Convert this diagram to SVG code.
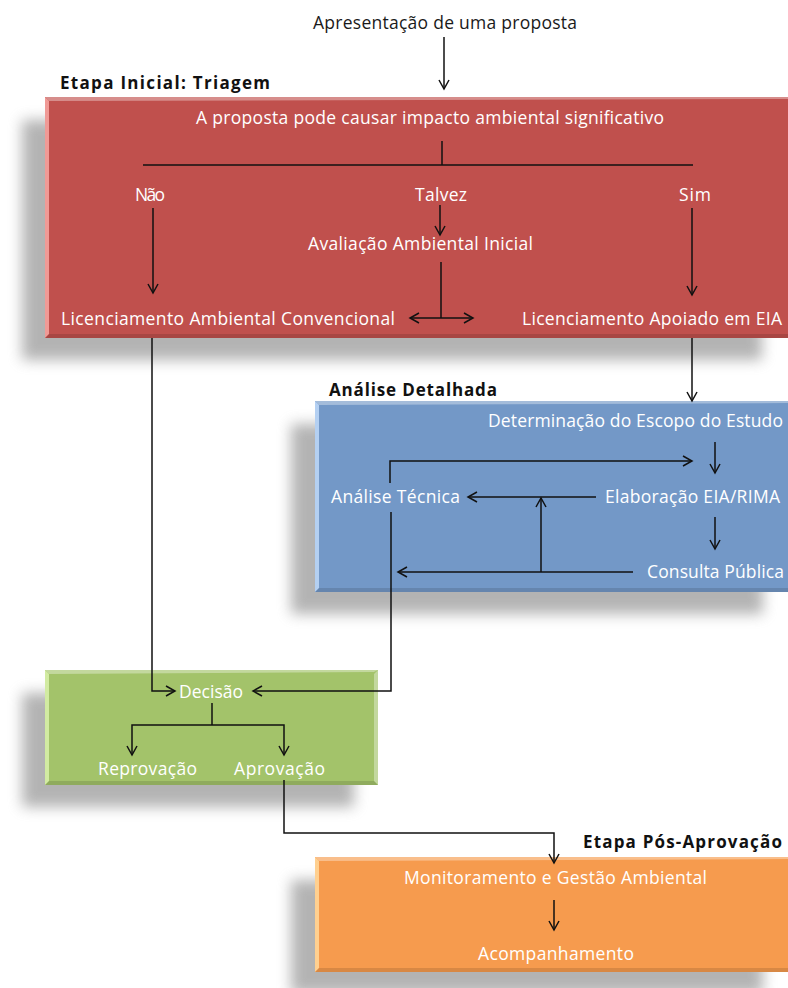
<svg xmlns="http://www.w3.org/2000/svg" width="788" height="988" viewBox="0 0 788 988">
  <style>
    .lbl { font-family: "Open Sans", Lato, "Liberation Sans", sans-serif; font-size: 17.5px; fill: #ffffff; }
    .dark { fill: #1a1a1a; }
    .head { font-family: "Open Sans", Lato, "Liberation Sans", sans-serif; font-size: 17px; font-weight: bold; fill: #111111; }
    .conn { fill: none; stroke: #111111; stroke-width: 1.5; }
    .shadow { fill: #8c8c8c; opacity: 0.65; filter: url(#soft); }
    .hi { fill: #ffffff; opacity: 0.35; }
    .lo { fill: #000000; opacity: 0.12; }
  </style>
  <defs>
    <filter id="soft" x="-20%" y="-30%" width="140%" height="160%">
      <feGaussianBlur stdDeviation="7"/>
    </filter>
    <marker id="arr" markerUnits="userSpaceOnUse" markerWidth="14" markerHeight="14" viewBox="-11 -7 13 14" refX="0" refY="0" orient="auto">
      <path d="M-9,-5 L0,0 L-9,5" fill="none" stroke="#111111" stroke-width="1.5"/>
    </marker>
  </defs>

  <rect width="788" height="988" fill="#ffffff"/>

  <!-- drop shadows under the stage panels -->
  <g id="shadows">
    <rect class="shadow" x="22" y="120" width="740" height="240"/>
    <rect class="shadow" x="291" y="424" width="472" height="190"/>
    <rect class="shadow" x="22" y="693" width="332" height="114"/>
    <rect class="shadow" x="291" y="880" width="472" height="114"/>
  </g>

  <!-- Stage 1: screening -->
  <g id="triagem">
    <rect x="45" y="97" width="750" height="241" fill="#C0504D"/>
    <polygon class="hi" points="45,97 795,97 795,99 49,101"/>
    <polygon points="45,97 49,101 49,334 45,338" fill="#F09A96"/>
    <polygon class="lo" points="45,338 49,334 795,334 795,338"/>
    <text class="head" x="60" y="89" textLength="210">Etapa Inicial: Triagem</text>
    <text class="lbl" x="196" y="124" textLength="468">A proposta pode causar impacto ambiental significativo</text>
    <text class="lbl" x="150" y="201" text-anchor="middle" textLength="30">Não</text>
    <text class="lbl" x="441" y="201" text-anchor="middle" textLength="52">Talvez</text>
    <text class="lbl" x="695" y="201" text-anchor="middle" textLength="32">Sim</text>
    <text class="lbl" x="308" y="250" textLength="225">Avaliação Ambiental Inicial</text>
    <text class="lbl" x="61" y="325" textLength="334">Licenciamento Ambiental Convencional</text>
    <text class="lbl" x="522" y="325" textLength="260">Licenciamento Apoiado em EIA</text>
  </g>

  <!-- Stage 2: detailed analysis -->
  <g id="analise">
    <rect x="315" y="401" width="480" height="191" fill="#7398C7"/>
    <polygon class="hi" points="315,401 795,401 795,403 319,405"/>
    <polygon points="315,401 319,405 319,588 315,592" fill="#B4D0F2"/>
    <polygon class="lo" points="315,592 319,588 795,588 795,592"/>
    <text class="head" x="329" y="396" textLength="168">Análise Detalhada</text>
    <text class="lbl" x="488" y="427" textLength="295">Determinação do Escopo do Estudo</text>
    <text class="lbl" x="331" y="503" textLength="129">Análise Técnica</text>
    <text class="lbl" x="605" y="503" textLength="175">Elaboração EIA/RIMA</text>
    <text class="lbl" x="647" y="578" textLength="137">Consulta Pública</text>
  </g>

  <!-- Stage 3: decision -->
  <g id="decisao">
    <rect x="45" y="670" width="333" height="115" fill="#A3C36A"/>
    <polygon class="hi" points="45,670 378,670 374,672 49,674"/>
    <polygon points="45,670 49,674 49,781 45,785" fill="#D2EBA2"/>
    <polygon class="hi" points="378,670 374,674 374,781 378,785"/>
    <polygon class="lo" points="45,785 49,781 374,781 378,785"/>
    <text class="lbl" x="179" y="698" textLength="64">Decisão</text>
    <text class="lbl" x="98" y="775" textLength="99">Reprovação</text>
    <text class="lbl" x="234" y="775" textLength="91">Aprovação</text>
  </g>

  <!-- Stage 4: post-approval -->
  <g id="pos-aprovacao">
    <rect x="315" y="857" width="480" height="115" fill="#F69B4E"/>
    <polygon class="hi" points="315,857 795,857 795,859 319,861"/>
    <polygon points="315,857 319,861 319,968 315,972" fill="#FFD090"/>
    <polygon class="lo" points="315,972 319,968 795,968 795,972"/>
    <text class="head" x="583" y="848" textLength="199">Etapa Pós-Aprovação</text>
    <text class="lbl" x="404" y="884" textLength="303">Monitoramento e Gestão Ambiental</text>
    <text class="lbl" x="478" y="960" textLength="156">Acompanhamento</text>
  </g>

  <text id="entrada" class="lbl dark" x="313" y="29" textLength="264">Apresentação de uma proposta</text>

  <!-- connectors -->
  <g id="connectors">
    <path class="conn" d="M444,37 V89" marker-end="url(#arr)"/>
    <path class="conn" d="M442,141 V165 M143,165 H693"/>
    <path class="conn" d="M153,208 V293" marker-end="url(#arr)"/>
    <path class="conn" d="M440,205 V235" marker-end="url(#arr)"/>
    <path class="conn" d="M692,208 V295" marker-end="url(#arr)"/>
    <path class="conn" d="M441,262 V318"/>
    <path class="conn" d="M441,318 H410" marker-end="url(#arr)"/>
    <path class="conn" d="M441,318 H473" marker-end="url(#arr)"/>
    <path class="conn" d="M152,338 V691 H175" marker-end="url(#arr)"/>
    <path class="conn" d="M692,338 V401" marker-end="url(#arr)"/>
    <path class="conn" d="M715,442 V473" marker-end="url(#arr)"/>
    <path class="conn" d="M390,483 V461 H692" marker-end="url(#arr)"/>
    <path class="conn" d="M596,497 H468" marker-end="url(#arr)"/>
    <path class="conn" d="M715,517 V549" marker-end="url(#arr)"/>
    <path class="conn" d="M633,572 H398" marker-end="url(#arr)"/>
    <path class="conn" d="M541,572 V498" marker-end="url(#arr)"/>
    <path class="conn" d="M391,512 V691 H253" marker-end="url(#arr)"/>
    <path class="conn" d="M212,703 V725"/>
    <path class="conn" d="M212,725 H132 V755" marker-end="url(#arr)"/>
    <path class="conn" d="M212,725 H284 V755" marker-end="url(#arr)"/>
    <path class="conn" d="M284,780 V833 H554 V863" marker-end="url(#arr)"/>
    <path class="conn" d="M554,900 V930" marker-end="url(#arr)"/>
  </g>
</svg>
